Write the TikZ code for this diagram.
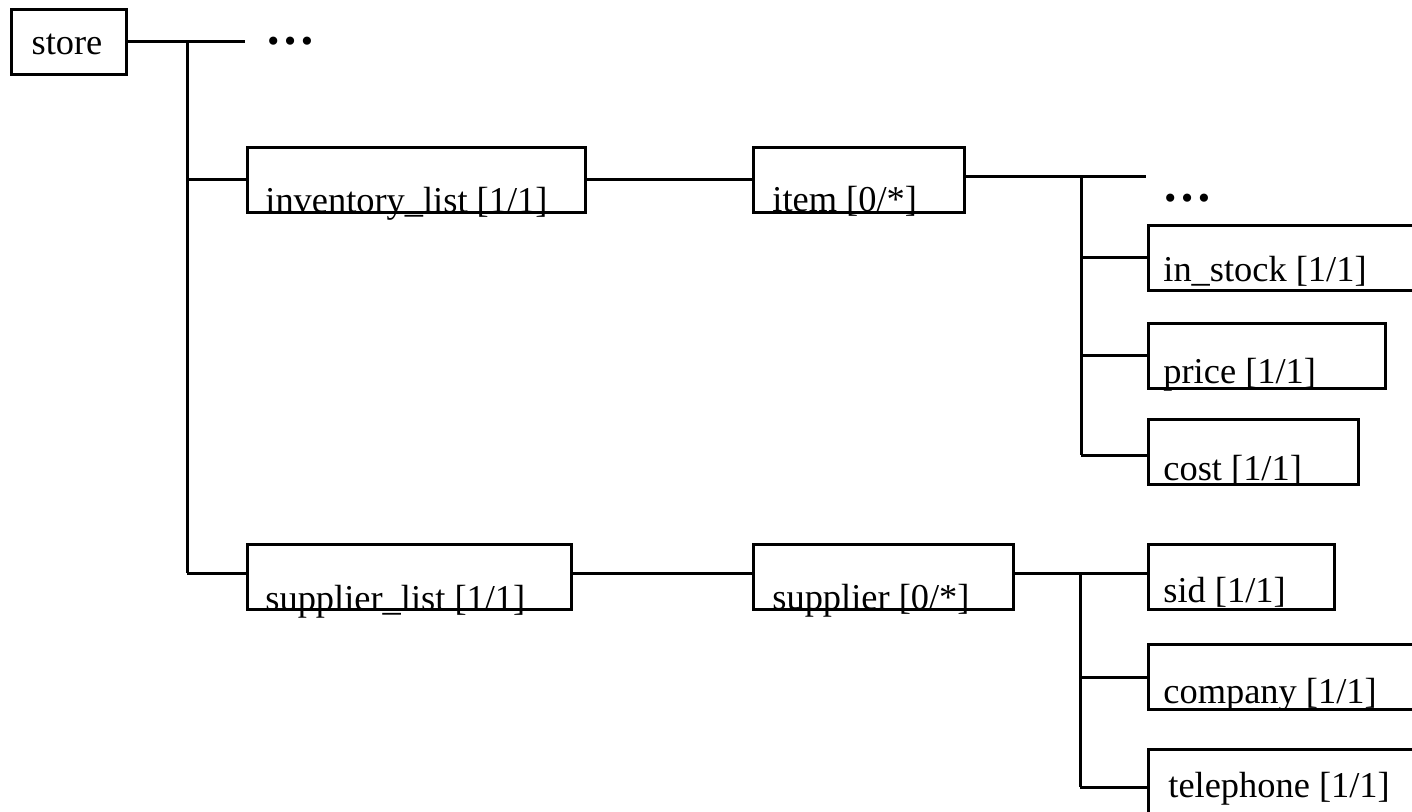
\documentclass[tikz,border=0pt]{standalone}
\usepackage{fontspec}
\setmainfont{Liberation Serif}
\begin{document}
\begin{tikzpicture}[x=0.5pt,y=-0.5pt,
  every node/.style={font=\fontsize{18.2pt}{22pt}\selectfont},
  box/.style={draw, line width=1.5pt, inner sep=0pt, anchor=north west, minimum height=32.5pt},
  lbl/.style={anchor=base west, inner sep=0pt},
  dots/.style={inner sep=0pt, font=\fontsize{25pt}{26pt}\selectfont\bfseries},
  conn/.style={line width=1.5pt}]
\useasboundingbox (0,0) rectangle (1412,812);
% boxes
\node[box, minimum width=57.5pt] (store) at (10,8) {};
\node[anchor=base, inner sep=0pt] (storet) at (67,55) {store};
\node[box, minimum width=169pt] (inv) at (246,146) {};
\node[lbl] (invt) at (265,213) {inventory\_list [1/1]};
\node[box, minimum width=105.5pt] (item) at (752,146) {};
\node[lbl] (itemt) at (772,212) {item [0/*]};
\node[box, minimum width=180pt] (instock) at (1147,224) {};
\node[lbl] (instockt) at (1163,282) {in\_stock [1/1]};
\node[box, minimum width=118.5pt] (price) at (1147,322) {};
\node[lbl] (pricet) at (1163,383) {price [1/1]};
\node[box, minimum width=105pt] (cost) at (1147,418) {};
\node[lbl] (costt) at (1163,480) {cost [1/1]};
\node[box, minimum width=162pt] (suplist) at (246,543) {};
\node[lbl] (suplistt) at (265,610) {supplier\_list [1/1]};
\node[box, minimum width=130pt] (supplier) at (752,543) {};
\node[lbl] (suppliert) at (772,609) {supplier [0/*]};
\node[box, minimum width=93pt] (sid) at (1147,543) {};
\node[lbl] (sidt) at (1163,602) {sid [1/1]};
\node[box, minimum width=180pt] (company) at (1147,643) {};
\node[lbl] (companyt) at (1163,703) {company [1/1]};
\node[box, minimum width=180pt] (telephone) at (1147,748) {};
\node[lbl] (telephonet) at (1168,797) {telephone [1/1]};
% dots
\node[dots] (dotsA) at (290,41) {…};
\node[dots] (dotsB) at (1187,198) {…};
% connectors
\coordinate (j0) at (187,42);
\coordinate (e0) at (245,42);
\coordinate (j0b) at (187,573);
\coordinate (j1) at (187,180);
\coordinate (j2) at (1081,177);
\coordinate (e2) at (1146,177);
\coordinate (j2b) at (1081,455);
\coordinate (j3) at (1080,573);
\coordinate (j3b) at (1080,787);
\draw[conn] (store.east |- j0) -- (e0);
\draw[conn] (j0) -- (j0b);
\draw[conn] (j1) -- (j1 -| inv.west);
\draw[conn] (j0b) -- (j0b -| suplist.west);
\draw[conn] (inv.east |- item.west) -- (item.west);
\draw[conn] (item.east |- j2) -- (e2);
\draw[conn] (j2) -- (j2b);
\draw[conn] (j2 |- instock.west) -- (instock.west);
\draw[conn] (j2 |- price.west) -- (price.west);
\draw[conn] (j2b) -- (j2b -| cost.west);
\draw[conn] (suplist.east |- j3) -- (j3 -| supplier.west);
\draw[conn] (supplier.east |- j3) -- (j3 -| sid.west);
\draw[conn] (j3) -- (j3b);
\draw[conn] (j3 |- company.west) -- (company.west);
\draw[conn] (j3b) -- (j3b -| telephone.west);
\end{tikzpicture}
\end{document}
